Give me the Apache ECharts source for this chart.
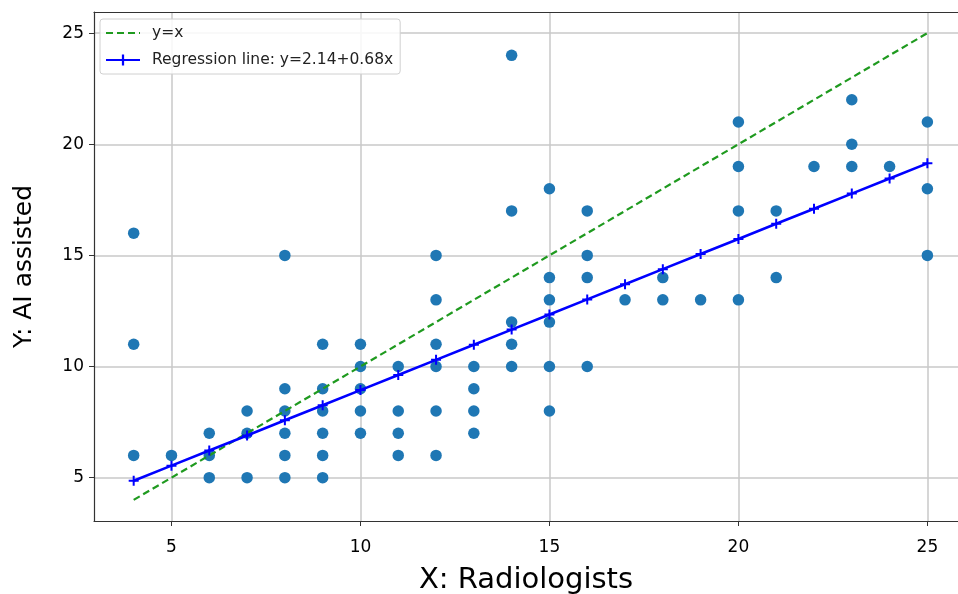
<!DOCTYPE html>
<html lang="en">
    <head>
        <meta charset="utf-8">
        <title>radiologists vs ai assisted</title>
        <script src="https://cdn.jsdelivr.net/npm/echarts@6/dist/echarts.min.js"></script>
        <style>
            body { margin: 0; background: #fff; }
            #main { width: 958px; height: 594px; }
        </style>
    </head>
    <body>
        <div id="main"></div>
        <script>
            // scatter points (one entry per dot)
            var radiologists = [
                4, 4, 4,
                5,
                6, 6, 6,
                7, 7, 7,
                8, 8, 8, 8, 8, 8,
                9, 9, 9, 9, 9, 9,
                10, 10, 10, 10, 10,
                11, 11, 11, 11,
                12, 12, 12, 12, 12, 12,
                13, 13, 13, 13,
                14, 14, 14, 14, 14,
                15, 15, 15, 15, 15, 15,
                16, 16, 16, 16,
                17,
                18, 18,
                19,
                20, 20, 20, 20,
                21, 21,
                22,
                23, 23, 23,
                24,
                25, 25, 25
            ]
            var aiAssisted = [
                16, 11, 6,
                6,
                7, 6, 5,
                8, 7, 5,
                15, 9, 8, 7, 6, 5,
                11, 9, 8, 7, 6, 5,
                11, 10, 9, 8, 7,
                10, 8, 7, 6,
                15, 13, 11, 10, 8, 6,
                10, 9, 8, 7,
                24, 17, 12, 11, 10,
                18, 14, 13, 12, 10, 8,
                17, 15, 14, 10,
                13,
                14, 13,
                13,
                21, 19, 17, 13,
                17, 14,
                19,
                22, 20, 19,
                19,
                21, 18, 15
            ]

            // y = x reference line
            var identityX = [4, 25]
            var identityY = [4, 25]

            // regression line y = 2.14 + 0.68x, one marker per x
            var regX = [4, 5, 6, 7, 8, 9, 10, 11, 12, 13, 14, 15, 16, 17, 18, 19, 20, 21, 22, 23, 24, 25]
            var regY = [4.86, 5.54, 6.22, 6.90, 7.58, 8.26, 8.94, 9.62, 10.30, 10.98, 11.66,
                        12.34, 13.02, 13.70, 14.38, 15.06, 15.74, 16.42, 17.10, 17.78, 18.46, 19.14]

            var tickValues = [5, 10, 15, 20, 25]

            var zip = function(a, b) {
                var out = []
                for (var i = 0; i < a.length; i++) {
                    out.push([a[i], b[i]])
                }
                return out
            }

            var font = 'DejaVu Sans'
            var plus = 'path://M4,0H6V4H10V6H6V10H4V6H0V4H4Z'
            var xMin = 2.95, xMax = 25.81

            var axisCommon = function() {
                return {
                    type: 'value',
                    axisLine: { show: true, onZero: false, lineStyle: { color: '#333', width: 1.2 } },
                    axisTick: { show: true, length: 5, customValues: tickValues, lineStyle: { color: '#333' } },
                    axisLabel: { customValues: tickValues, color: '#000', fontFamily: font, fontSize: 17 },
                    splitLine: { show: true, lineStyle: { color: '#c8c8c8', width: 1.5 } },
                    nameLocation: 'middle',
                    nameTextStyle: { color: '#000', fontFamily: font }
                }
            }

            var xAxis = axisCommon()
            xAxis.min = xMin
            xAxis.max = xMax
            xAxis.name = 'X: Radiologists'
            xAxis.nameGap = 45
            xAxis.nameTextStyle.fontSize = 29
            xAxis.axisLabel.margin = 18

            // top spine only
            var xTop = {
                type: 'value',
                position: 'top',
                min: xMin,
                max: xMax,
                axisLine: { show: true, onZero: false, lineStyle: { color: '#333', width: 1.2 } },
                axisTick: { show: false },
                axisLabel: { show: false },
                splitLine: { show: false }
            }

            var yAxis = axisCommon()
            yAxis.min = 3.05
            yAxis.max = 25.95
            yAxis.name = 'Y: AI assisted'
            yAxis.nameGap = 57
            yAxis.nameTextStyle.fontSize = 25
            yAxis.axisLabel.margin = 10

            var myChart = echarts.init(document.getElementById('main'), null, { renderer: 'canvas' })

            var option = {
                animation: false,
                backgroundColor: '#fff',
                grid: {
                    left: 94, top: 12, width: 864, height: 509,
                    show: false,
                    containLabel: false,
                    outerBoundsMode: 'none'
                },
                legend: {
                    data: [
                        { name: 'y=x', itemStyle: { opacity: 0 } },
                        { name: 'Regression line: y=2.14+0.68x' }
                    ],
                    orient: 'vertical',
                    left: 100, top: 19,
                    padding: [6, 7, 6, 5],
                    itemGap: 11,
                    itemWidth: 34,
                    itemHeight: 14,
                    backgroundColor: 'rgba(255,255,255,0.85)',
                    borderColor: '#d0d0d0',
                    borderWidth: 1,
                    borderRadius: 3,
                    textStyle: { color: '#222', fontFamily: font, fontSize: 15.5, padding: [0, 0, 0, 7] }
                },
                xAxis: [xAxis, xTop],
                yAxis: yAxis,
                series: [
                    {
                        name: 'points',
                        type: 'scatter',
                        data: zip(radiologists, aiAssisted),
                        symbolSize: 11.5,
                        itemStyle: { color: '#1f77b4', opacity: 1 },
                        z: 2
                    },
                    {
                        name: 'y=x',
                        type: 'line',
                        data: zip(identityX, identityY),
                        showSymbol: false,
                        symbol: 'none',
                        lineStyle: { color: '#1f9a1f', width: 2.2, type: [7, 4] },
                        itemStyle: { color: '#1f9a1f' },
                        z: 3
                    },
                    {
                        name: 'Regression line: y=2.14+0.68x',
                        type: 'line',
                        data: zip(regX, regY),
                        symbol: plus,
                        symbolSize: 10,
                        lineStyle: { color: '#0000ff', width: 2.6 },
                        itemStyle: { color: '#0000ff' },
                        z: 4
                    }
                ]
            }

            myChart.setOption(option)
        </script>
    </body>
</html>
